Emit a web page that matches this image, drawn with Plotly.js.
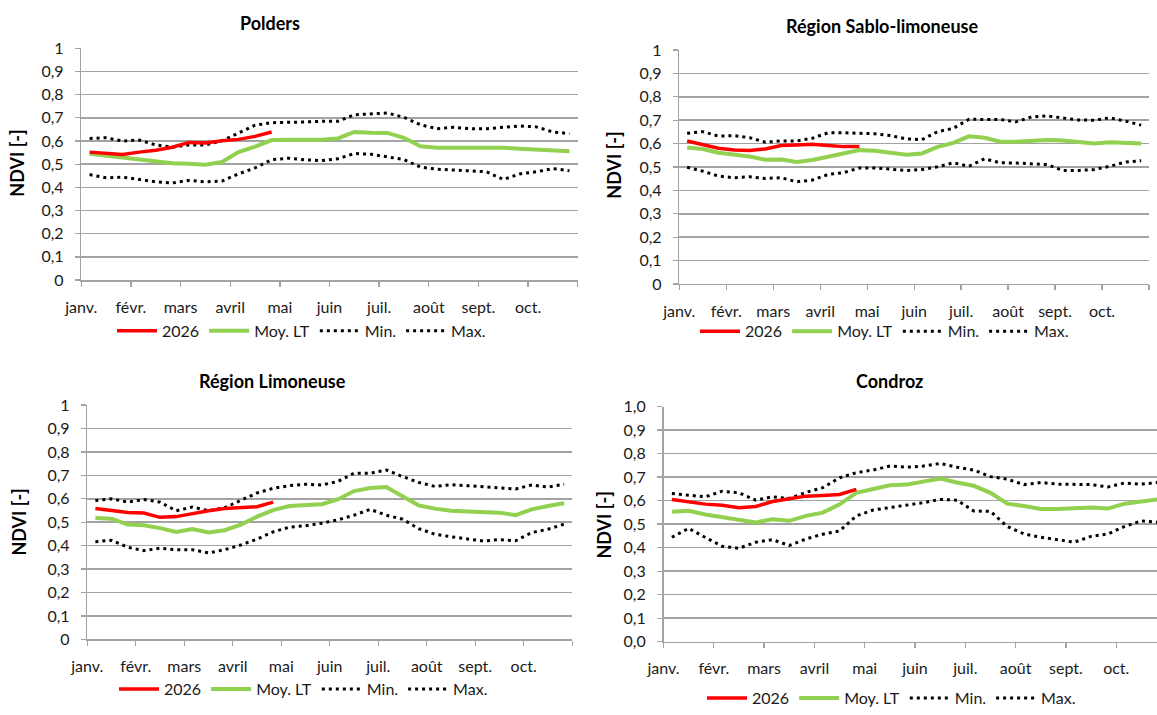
<!DOCTYPE html>
<html>
<head>
<meta charset="utf-8">
<script src="https://cdn.plot.ly/plotly-3.0.1.min.js"></script>
<style>html,body{margin:0;padding:0;background:#fff;}#chart{width:1157px;height:715px;}</style>
</head>
<body>
<div id="chart"></div>
<script>
// Month tick labels (3 dekads per month)
const months = ['janv.', 'févr.', 'mars', 'avril', 'mai', 'juin', 'juil.', 'août', 'sept.', 'oct.'];
const seriesNames = ['2026', 'Moy. LT', 'Min.', 'Max.'];

// ---- Polders ----
const poldersTitle = 'Polders';
const polders2026 = [0.552, 0.546, 0.542, 0.552, 0.560, 0.573, 0.594, 0.591, 0.601, 0.607, 0.620, 0.639];
const poldersMoy = [0.545, 0.537, 0.526, 0.520, 0.509, 0.504, 0.502, 0.498, 0.509, 0.552, 0.576, 0.604, 0.605, 0.605, 0.605, 0.611, 0.639, 0.636, 0.635, 0.614, 0.577, 0.571, 0.571, 0.571, 0.573, 0.571, 0.567, 0.564, 0.562, 0.556];
const poldersMin = [0.455, 0.441, 0.444, 0.434, 0.424, 0.419, 0.430, 0.424, 0.427, 0.458, 0.484, 0.519, 0.526, 0.519, 0.515, 0.523, 0.546, 0.543, 0.532, 0.520, 0.487, 0.478, 0.475, 0.472, 0.467, 0.434, 0.458, 0.467, 0.481, 0.472];
const poldersMax = [0.611, 0.614, 0.600, 0.604, 0.583, 0.574, 0.583, 0.583, 0.601, 0.636, 0.668, 0.679, 0.679, 0.682, 0.685, 0.685, 0.713, 0.717, 0.721, 0.702, 0.670, 0.653, 0.659, 0.653, 0.653, 0.659, 0.665, 0.661, 0.639, 0.632];

// ---- Région Sablo-limoneuse ----
const sabloTitle = 'Région Sablo-limoneuse';
const sablo2026 = [0.611, 0.594, 0.580, 0.573, 0.570, 0.577, 0.592, 0.594, 0.597, 0.592, 0.587, 0.587];
const sabloMoy = [0.583, 0.577, 0.561, 0.555, 0.545, 0.531, 0.532, 0.521, 0.530, 0.544, 0.556, 0.572, 0.569, 0.561, 0.552, 0.558, 0.586, 0.603, 0.631, 0.625, 0.608, 0.608, 0.613, 0.615, 0.613, 0.608, 0.600, 0.606, 0.603, 0.600];
const sabloMin = [0.499, 0.482, 0.461, 0.454, 0.458, 0.451, 0.454, 0.437, 0.444, 0.468, 0.476, 0.496, 0.496, 0.489, 0.485, 0.489, 0.501, 0.518, 0.503, 0.535, 0.518, 0.517, 0.514, 0.510, 0.485, 0.485, 0.489, 0.503, 0.521, 0.527];
const sabloMax = [0.644, 0.651, 0.632, 0.634, 0.625, 0.606, 0.611, 0.611, 0.623, 0.646, 0.646, 0.644, 0.642, 0.634, 0.620, 0.617, 0.651, 0.665, 0.704, 0.703, 0.703, 0.693, 0.714, 0.718, 0.710, 0.701, 0.700, 0.710, 0.696, 0.679];

// ---- Région Limoneuse ----
const limoTitle = 'Région Limoneuse';
const limo2026 = [0.559, 0.551, 0.542, 0.539, 0.521, 0.524, 0.537, 0.549, 0.559, 0.563, 0.566, 0.586];
const limoMoy = [0.518, 0.515, 0.490, 0.487, 0.475, 0.459, 0.471, 0.456, 0.466, 0.490, 0.524, 0.552, 0.569, 0.574, 0.577, 0.597, 0.633, 0.646, 0.650, 0.611, 0.572, 0.558, 0.549, 0.546, 0.544, 0.541, 0.530, 0.555, 0.569, 0.581];
const limoMin = [0.417, 0.423, 0.393, 0.379, 0.389, 0.383, 0.383, 0.369, 0.383, 0.403, 0.428, 0.459, 0.479, 0.485, 0.496, 0.510, 0.530, 0.555, 0.530, 0.513, 0.473, 0.449, 0.438, 0.428, 0.420, 0.426, 0.421, 0.456, 0.470, 0.492];
const limoMax = [0.593, 0.600, 0.586, 0.597, 0.586, 0.549, 0.565, 0.549, 0.562, 0.594, 0.625, 0.645, 0.656, 0.662, 0.659, 0.674, 0.709, 0.709, 0.723, 0.695, 0.670, 0.653, 0.660, 0.656, 0.653, 0.647, 0.642, 0.659, 0.650, 0.662];

// ---- Condroz ----
const condrozTitle = 'Condroz';
const condroz2026 = [0.605, 0.596, 0.585, 0.580, 0.570, 0.575, 0.596, 0.608, 0.619, 0.622, 0.626, 0.648];
const condrozMoy = [0.553, 0.557, 0.541, 0.531, 0.518, 0.507, 0.521, 0.514, 0.535, 0.549, 0.584, 0.633, 0.649, 0.665, 0.668, 0.682, 0.694, 0.677, 0.663, 0.633, 0.587, 0.577, 0.564, 0.564, 0.566, 0.571, 0.566, 0.587, 0.596, 0.605];
const condrozMin = [0.444, 0.482, 0.443, 0.406, 0.397, 0.423, 0.434, 0.409, 0.437, 0.457, 0.471, 0.535, 0.560, 0.570, 0.582, 0.591, 0.605, 0.602, 0.556, 0.554, 0.490, 0.458, 0.444, 0.433, 0.423, 0.448, 0.458, 0.490, 0.514, 0.507];
const condrozMax = [0.630, 0.623, 0.616, 0.640, 0.633, 0.602, 0.616, 0.609, 0.635, 0.655, 0.697, 0.719, 0.730, 0.747, 0.742, 0.747, 0.758, 0.742, 0.730, 0.702, 0.691, 0.668, 0.677, 0.670, 0.670, 0.668, 0.658, 0.675, 0.670, 0.677];

// ---------------- layout / styling ----------------
const W = 1157, H = 715;
const FONT = 'Lato, "Open Sans", sans-serif';
const GRID = '#a3a3a3';
const TXT = '#1a1a1a';
const RED = '#ff0000', GREEN = '#92d050', BLACK = '#000000';

// pixel boxes of each plot area: [left, right, top, bottom]
const panels = [
  {title: poldersTitle, d: [polders2026, poldersMoy, poldersMin, poldersMax], box: [81.3, 577.7, 49, 284], xmax: 30, fmt: '', leg: [112, 335.5], titleXY: [270, 23], ytXY: [17, 166]},
  {title: sabloTitle, d: [sablo2026, sabloMoy, sabloMin, sabloMax], box: [679.3, 1149, 50.7, 288], xmax: 30, fmt: '', leg: [695, 336], titleXY: [882, 26], ytXY: [614, 168]},
  {title: limoTitle, d: [limo2026, limoMoy, limoMin, limoMax], box: [87.3, 572.2, 410.8, 648.5], xmax: 30, fmt: '', leg: [114, 699], titleXY: [272, 386], ytXY: [19, 530]},
  {title: condrozTitle, d: [condroz2026, condrozMoy, condrozMin, condrozMax], box: [663.5, 1157, 412.3, 650.8], xmax: 29.43, fmt: '.1f', leg: [702, 708], titleXY: [889, 386], ytXY: [604, 533]}
];

const traces = [];
const layout = {
  width: W, height: H,
  margin: {l: 0, r: 0, t: 0, b: 0},
  paper_bgcolor: '#ffffff', plot_bgcolor: '#ffffff',
  separators: ', ',
  font: {family: FONT, size: 16, color: TXT},
  showlegend: true,
  annotations: []
};

const styles = [
  {color: RED, width: 3.5, dash: 'solid'},
  {color: GREEN, width: 4, dash: 'solid'},
  {color: BLACK, width: 3, dash: '3px,4px'},
  {color: BLACK, width: 3, dash: '3px,4px'}
];
const drawOrder = [2, 3, 1, 0];

panels.forEach((p, k) => {
  const n = k === 0 ? '' : String(k + 1);
  const xa = 'xaxis' + n, ya = 'yaxis' + n;
  const legName = 'legend' + n;
  const [L, R, T, B] = p.box;
  const dekadPx = (R - L) / p.xmax;

  drawOrder.forEach(s => {
    const vals = p.d[s];
    traces.push({
      type: 'scatter', mode: 'lines',
      x: vals.map((_, i) => i + 0.5),
      y: vals,
      name: seriesNames[s],
      line: {color: styles[s].color, width: styles[s].width, dash: styles[s].dash, shape: 'linear'},
      xaxis: 'x' + n, yaxis: 'y' + n,
      legend: legName,
      legendrank: s + 1,
      hoverinfo: 'skip'
    });
  });

  const tickvals = [];
  const ticktext = [];
  for (let m = 0; m <= months.length; m++) { tickvals.push(m * 3); ticktext.push(m < months.length ? months[m] : ''); }

  layout[xa] = {
    domain: [L / W, R / W],
    range: [0, p.xmax],
    anchor: 'y' + n,
    tickmode: 'array', tickvals: tickvals, ticktext: ticktext,
    ticks: 'outside', ticklen: 5, tickwidth: 1.3, tickcolor: GRID,
    showline: true, linecolor: GRID, linewidth: 1.5,
    showgrid: false, zeroline: false,
    ticklabelshift: dekadPx / 2,
    ticklabelstandoff: 7,
    tickfont: {family: FONT, size: 16, color: TXT},
    fixedrange: true
  };
  layout[ya] = {
    domain: [1 - B / H, 1 - T / H],
    range: [0, 1],
    anchor: 'x' + n,
    tickmode: 'linear', tick0: 0, dtick: 0.1,
    tickformat: p.fmt,
    ticks: 'outside', ticklen: 5, tickwidth: 1.3, tickcolor: GRID,
    showline: true, linecolor: GRID, linewidth: 1.5,
    showgrid: true, gridcolor: GRID, gridwidth: 1.5,
    zeroline: false,
    ticklabelstandoff: 8,
    tickfont: {family: FONT, size: 16, color: TXT},
    fixedrange: true
  };
  layout[legName] = {
    orientation: 'h',
    x: p.leg[0] / W, xanchor: 'left',
    y: 1 - p.leg[1] / H, yanchor: 'middle',
    bgcolor: 'rgba(0,0,0,0)', borderwidth: 0,
    font: {family: FONT, size: 16, color: TXT},
    traceorder: 'normal',
    itemwidth: 40
  };
  layout.annotations.push({
    text: '<b>' + p.title + '</b>', showarrow: false,
    xref: 'paper', yref: 'paper',
    x: p.titleXY[0] / W, y: 1 - p.titleXY[1] / H,
    xanchor: 'center', yanchor: 'middle',
    font: {family: FONT, size: 18, color: '#000000'}
  });
  layout.annotations.push({
    text: '<b>NDVI [-]</b>', showarrow: false, textangle: -90,
    xref: 'paper', yref: 'paper',
    x: p.ytXY[0] / W, y: 1 - p.ytXY[1] / H,
    xanchor: 'center', yanchor: 'middle',
    font: {family: FONT, size: 18, color: '#000000'}
  });
});

Plotly.newPlot('chart', traces, layout, {staticPlot: true, displayModeBar: false});
</script>
</body>
</html>
